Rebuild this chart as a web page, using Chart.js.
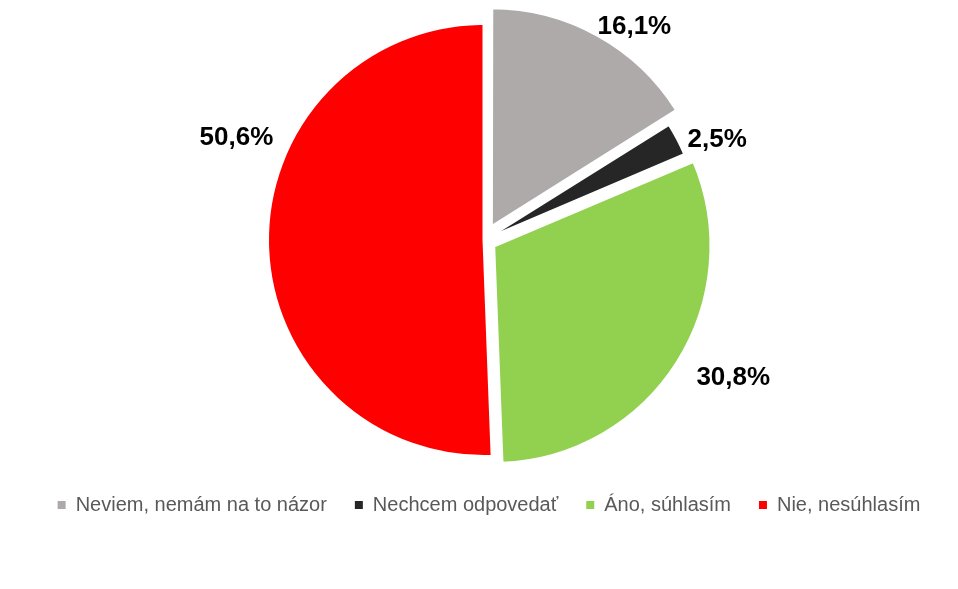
<!DOCTYPE html>
<html>
<head>
<meta charset="utf-8">
<script src="https://cdn.jsdelivr.net/npm/chart.js@4.4.1/dist/chart.umd.min.js"></script>
<style>
  html, body { margin:0; padding:0; background:#fff; }
  #wrap { position:relative; width:958px; height:589px; }
</style>
</head>
<body>
<div id="wrap"><canvas id="pie"></canvas></div>
<script>

const categories = ['Neviem, nemám na to názor', 'Nechcem odpovedať', 'Áno, súhlasím', 'Nie, nesúhlasím']
const values     = [16.1, 2.5, 30.8, 50.6]
const colors     = ['#AEAAAA', '#262626', '#92D050', '#FF0000']


function fmt(v){ return v.toFixed(1).replace('.', ',') + '%' }


// percent labels outside the slices
const pieLabels = {
      id: 'pieLabels',
      afterDatasetsDraw(chart, args, opts){
            const ctx  = chart.ctx
            const meta = chart.getDatasetMeta(0)
            const data = chart.data.datasets[0].data

            ctx.save()
            ctx.font = opts.font
            ctx.fillStyle = opts.color
            ctx.textAlign = 'center'
            ctx.textBaseline = 'middle'

            meta.data.forEach((arc, i) => {
                  const p = arc.getProps(['x', 'y', 'startAngle', 'endAngle'], true)
                  const a = (p.startAngle + p.endAngle) / 2 + opts.shift[i] * Math.PI / 180
                  ctx.fillText(fmt(data[i]), p.x + Math.cos(a) * opts.dist[i], p.y + Math.sin(a) * opts.dist[i])
            })
            ctx.restore()
      }
}

// legend sits a bit right of the pie centre in the original
const legendNudge = {
      id: 'legendNudge',
      afterLayout(chart, args, opts){
            chart.legend.left  += opts.dx
            chart.legend.right += opts.dx
      }
}

// same items as the pie default, but no white outline on the little squares
function legendItems(chart){
      const items = Chart.overrides.doughnut.plugins.legend.labels.generateLabels(chart)
      items.forEach(it => { it.lineWidth = 0 })
      return items
}


const setup = {
      type: 'pie',
      data: {
            labels: categories,
            datasets: [{
                  data: values,
                  backgroundColor: colors,
                  borderColor: '#fff',
                  borderWidth: 3,
                  radius: 216.5,
                  offset: [61, 4, 46, 0],   // chart.js moves a slice by about offset/4 (more for thin ones)
                  hoverOffset: 0,
            }]
      },
      options: {
            responsive: true,
            maintainAspectRatio: false,
            animation: false,
            layout: { padding: { top: 13, bottom: 64, left: 10, right: 0 } },
            plugins: {
                  legend: {
                        display: true,
                        position: 'bottom',
                        labels: {
                              color: '#595959',
                              font: { family: '"Liberation Sans", Arial, sans-serif', size: 20 },
                              boxWidth: 8,
                              boxHeight: 8,
                              padding: 28,
                              generateLabels: legendItems,
                        }
                  },
                  tooltip: { enabled: false },
                  pieLabels: {
                        font: 'bold 26px "Liberation Sans", Arial, sans-serif',
                        color: '#000',
                        shift: [6.2, 4.2, -3.4, 23.6],
                        dist:  [261, 254, 285, 268],
                  },
                  legendNudge: { dx: 5 },
            },
      },
      plugins: [pieLabels, legendNudge],
}

new Chart(document.getElementById('pie'), setup)

</script>
</body>
</html>
